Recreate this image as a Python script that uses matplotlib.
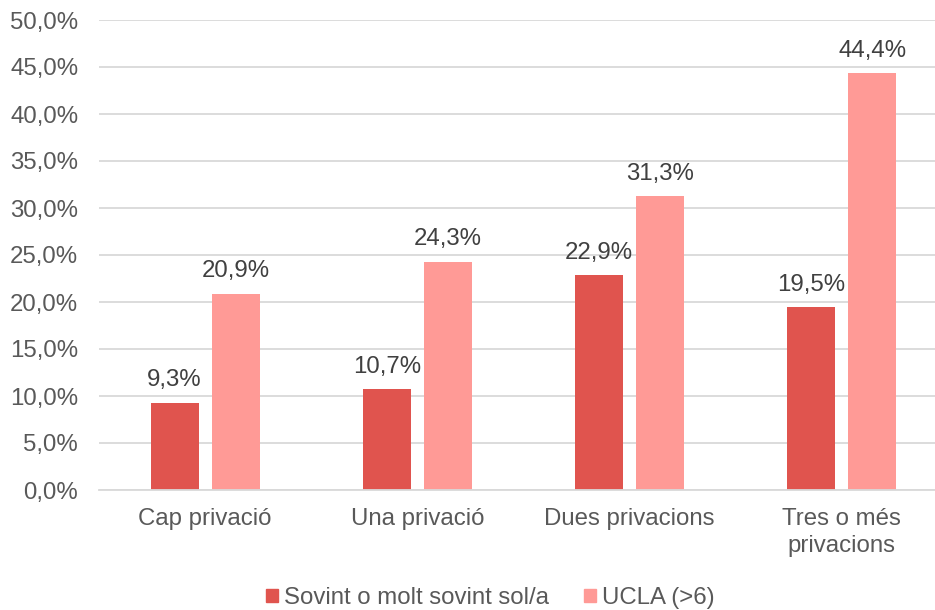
import matplotlib
matplotlib.use("Agg")
import matplotlib.pyplot as plt
import numpy as np
from matplotlib.patches import Patch

plt.rcParams["font.family"] = ["Liberation Sans", "DejaVu Sans"]

categories = ["Cap privació", "Una privació", "Dues privacions", "Tres o més\nprivacions"]
sovint_sol = [9.3, 10.7, 22.9, 19.5]
ucla = [20.9, 24.3, 31.3, 44.4]
series_names = ["Sovint o molt sovint sol/a", "UCLA (>6)"]

DARK = "#E0544E"
LIGHT = "#FF9A96"
GRID = "#D9D9D9"
TEXT = "#595959"
LABEL = "#404040"
FS = 17.3


def pct(v):
    return f"{v:.1f}%".replace(".", ",")


fig = plt.figure(figsize=(9.35, 6.1), dpi=100)
ax = fig.add_axes([99 / 935, 120 / 610, 849 / 935, 470 / 610])

x = np.arange(len(categories))
width = 0.226
offset = 0.144
bars_a = ax.bar(x - offset, sovint_sol, width, color=DARK, zorder=2)
bars_b = ax.bar(x + offset, ucla, width, color=LIGHT, zorder=2)

for bars, values in ((bars_a, sovint_sol), (bars_b, ucla)):
    for bar, v in zip(bars, values):
        ax.annotate(pct(v), (bar.get_x() + bar.get_width() / 2, v),
                    xytext=(0, 8), textcoords="offset points",
                    ha="center", va="bottom", fontsize=FS, color=LABEL)

ax.set_xlim(-0.5, len(categories) - 0.5)
ax.set_ylim(0, 50)
ax.set_yticks(np.arange(0, 55, 5))
ax.set_yticklabels([pct(v) for v in np.arange(0, 55, 5)])
ax.set_xticks(x)
ax.set_xticklabels(categories, linespacing=1.28)
ax.tick_params(axis="y", length=0, pad=15, labelsize=FS, labelcolor=TEXT)
ax.tick_params(axis="x", length=0, pad=13, labelsize=FS, labelcolor=TEXT)
ax.grid(axis="y", color=GRID, linewidth=1.3, zorder=0)
for side in ("top", "right", "left"):
    ax.spines[side].set_visible(False)
ax.spines["bottom"].set_color(GRID)
ax.spines["bottom"].set_linewidth(1.3)

handles = [Patch(color=DARK), Patch(color=LIGHT)]
fig.legend(handles, series_names, loc="center", bbox_to_anchor=(490 / 935, 1 - 598 / 610),
           ncol=2, frameon=False, fontsize=FS, labelcolor=TEXT,
           handlelength=0.5, handleheight=0.5, handletextpad=0.25, columnspacing=1.45)

fig.savefig("out.png", dpi=100)
